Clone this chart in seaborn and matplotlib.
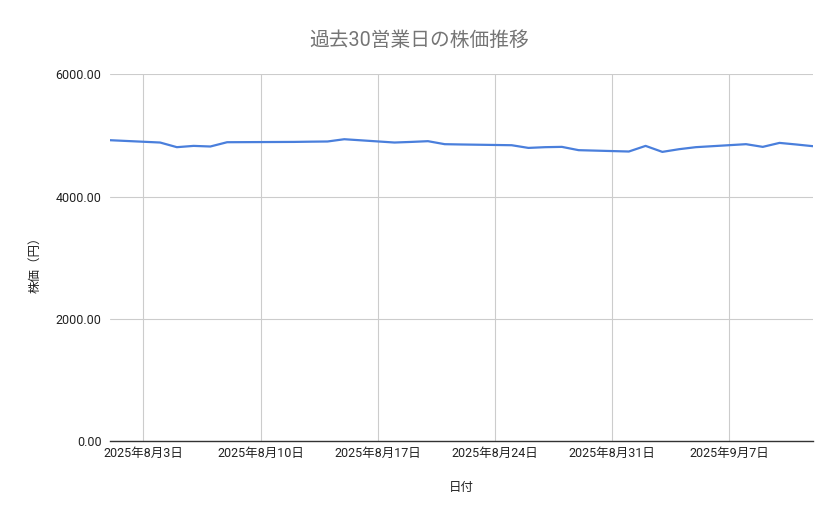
import pandas as pd
import seaborn as sns
import matplotlib
matplotlib.use("Agg")
import matplotlib.pyplot as plt
import matplotlib.dates as mdates
from matplotlib.ticker import FuncFormatter, FixedLocator

# 30 business days (Aug 11 is a holiday)
dates = [
    "2025-08-01", "2025-08-04", "2025-08-05", "2025-08-06", "2025-08-07", "2025-08-08",
    "2025-08-12", "2025-08-13", "2025-08-14", "2025-08-15",
    "2025-08-18", "2025-08-19", "2025-08-20", "2025-08-21", "2025-08-22",
    "2025-08-25", "2025-08-26", "2025-08-27", "2025-08-28", "2025-08-29",
    "2025-09-01", "2025-09-02", "2025-09-03", "2025-09-04", "2025-09-05",
    "2025-09-08", "2025-09-09", "2025-09-10", "2025-09-11", "2025-09-12",
]
prices = [
    4921, 4883, 4807, 4828, 4818, 4888,
    4893, 4897, 4900, 4937,
    4883, 4893, 4905, 4856, 4851,
    4839, 4795, 4807, 4812, 4758,
    4736, 4828, 4730, 4774, 4807,
    4856, 4812, 4877, 4851, 4823,
]
y_ticks = [0, 2000, 4000, 6000]

title = "過去30営業日の株価推移"
x_label = "日付"
y_label = "株価（円）"

df = pd.DataFrame({"date": pd.to_datetime(dates), "price": prices})

sns.set_style("white")
plt.rcParams["font.family"] = ["Roboto", "Noto Sans CJK JP", "DejaVu Sans"]

fig = plt.figure(figsize=(8.39, 5.19), dpi=100)
ax = fig.add_axes([0.131, 0.150, 0.838, 0.707])

sns.lineplot(data=df, x="date", y="price", ax=ax, color="#4a7fdc", linewidth=1.6)

ax.set_xlim(pd.Timestamp("2025-08-01"), pd.Timestamp("2025-09-12"))
ax.set_ylim(0, 6000)

ax.yaxis.set_major_locator(FixedLocator(y_ticks))
ax.yaxis.set_major_formatter(FuncFormatter(lambda v, p: f"{v:.2f}"))
ax.xaxis.set_major_locator(mdates.WeekdayLocator(byweekday=mdates.SU))
ax.xaxis.set_major_formatter(FuncFormatter(
    lambda v, p: (lambda d: f"{d.year}年{d.month}月{d.day}日")(mdates.num2date(v))))

ax.grid(True, color="#cccccc", linewidth=0.8)
ax.set_axisbelow(True)
for s in ["top", "right", "left"]:
    ax.spines[s].set_visible(False)
ax.spines["bottom"].set_color("#333333")
ax.spines["bottom"].set_linewidth(1.0)
ax.tick_params(axis="both", length=0, labelsize=9, colors="#222222")
ax.tick_params(axis="x", pad=4)
ax.tick_params(axis="y", pad=6)

ax.set_xlabel(x_label, fontsize=9, color="#222222", labelpad=15)
ax.set_ylabel(y_label, fontsize=9, color="#222222", labelpad=12)
ax.yaxis.set_label_coords(-0.098, 0.49)
fig.text(0.5, 0.922, title, ha="center", va="center", fontsize=14.2, color="#757575")

fig.savefig("out.png", dpi=100)
plt.close(fig)
